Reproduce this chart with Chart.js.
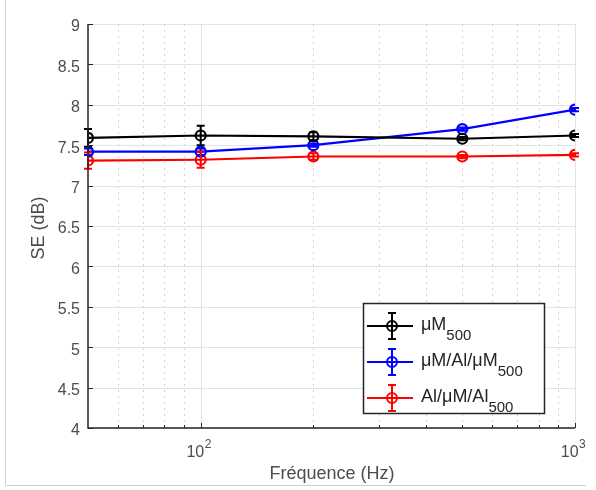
<!DOCTYPE html>
<html>
<head>
<meta charset="utf-8">
<script src="https://cdn.jsdelivr.net/npm/chart.js@4.4.1/dist/chart.umd.min.js"></script>
<style>
html,body{margin:0;padding:0;background:#fff;}
#wrap{position:relative;width:596px;height:490px;}
</style>
</head>
<body>
<div id="wrap"><canvas id="c" width="596" height="490"></canvas></div>
<script>
const frequencies = [50, 100, 200, 500, 1000];
const seMu500 = [7.59, 7.62, 7.61, 7.58, 7.62];
const errMu500 = [0.11, 0.12, 0.05, 0.02, 0.02];
const seMuAlMu500 = [7.42, 7.42, 7.50, 7.70, 7.94];
const errMuAlMu500 = [0.04, 0.04, 0.02, 0.02, 0.02];
const seAlMuAl500 = [7.31, 7.32, 7.36, 7.36, 7.38];
const errAlMuAl500 = [0.10, 0.10, 0.04, 0.02, 0.02];
const seriesNames = ['μM', 'μM/Al/μM', 'Al/μM/Al'];
const seriesSub = ['500', '500', '500'];
const seriesColors = ['#000000', '#0000ff', '#ff0000'];
const xMajorTicks = [100, 1000];
const xMajorLabels = ['10', '10'];
const xMajorExp = ['2', '3'];
const xMinorTicks = [60, 70, 80, 90, 200, 300, 400, 500, 600, 700, 800, 900];
const yTicks = [4, 4.5, 5, 5.5, 6, 6.5, 7, 7.5, 8, 8.5, 9];
const xTitle = 'Fréquence (Hz)';
const yTitle = 'SE (dB)';

const FONT = '"Liberation Sans", Arial, Helvetica, sans-serif';
const TXT = '#4d4d4d';

function mk(vals){ return frequencies.map((f,i)=>({x:f,y:vals[i]})); }
const allVals = [seMu500, seMuAlMu500, seAlMuAl500];
const allErrs = [errMu500, errMuAlMu500, errAlMuAl500];

const datasets = allVals.map((v,i)=>({
  label: seriesNames[i] + seriesSub[i],
  data: mk(v),
  errors: allErrs[i],
  borderColor: seriesColors[i],
  backgroundColor: 'rgba(0,0,0,0)',
  borderWidth: 2.2,
  pointRadius: 5,
  pointBorderWidth: 2.2,
  pointStyle: 'circle',
  showLine: true,
  tension: 0
}));

const gridPlugin = {
  id: 'grid',
  beforeDatasetsDraw(chart){
    const ctx = chart.ctx, a = chart.chartArea;
    const xs = chart.scales.x, ys = chart.scales.y;
    ctx.save();
    ctx.strokeStyle = '#e3e3e3'; ctx.lineWidth = 1;
    yTicks.forEach(t=>{
      const y = Math.round(ys.getPixelForValue(t))+0.5;
      ctx.beginPath(); ctx.moveTo(a.left,y); ctx.lineTo(a.right,y); ctx.stroke();
    });
    xMajorTicks.forEach(t=>{
      const x = Math.round(xs.getPixelForValue(t))+0.5;
      ctx.beginPath(); ctx.moveTo(x,a.top); ctx.lineTo(x,a.bottom); ctx.stroke();
    });
    ctx.strokeStyle = '#d4d4d4'; ctx.setLineDash([2,4]);
    xMinorTicks.forEach(t=>{
      const x = Math.round(xs.getPixelForValue(t))+0.5;
      ctx.beginPath(); ctx.moveTo(x,a.top); ctx.lineTo(x,a.bottom); ctx.stroke();
    });
    ctx.setLineDash([]);
    ctx.restore();
  },
  afterDatasetsDraw(chart){
    const ctx = chart.ctx;
    const xs = chart.scales.x, ys = chart.scales.y;
    ctx.save();
    chart.data.datasets.forEach(ds=>{
      ctx.strokeStyle = ds.borderColor; ctx.lineWidth = 2;
      ds.data.forEach((p,i)=>{
        const e = ds.errors[i];
        const x = xs.getPixelForValue(p.x);
        const y1 = ys.getPixelForValue(p.y - e), y2 = ys.getPixelForValue(p.y + e);
        ctx.beginPath();
        ctx.moveTo(x,y1); ctx.lineTo(x,y2);
        ctx.moveTo(x-4,y1); ctx.lineTo(x+4,y1);
        ctx.moveTo(x-4,y2); ctx.lineTo(x+4,y2);
        ctx.stroke();
      });
    });
    ctx.restore();
  },
  afterDraw(chart){
    const ctx = chart.ctx, a = chart.chartArea;
    const xs = chart.scales.x, ys = chart.scales.y;
    ctx.save();
    ctx.strokeStyle = '#d0d0d0'; ctx.lineWidth = 1;
    ctx.beginPath(); ctx.moveTo(5.5,0); ctx.lineTo(5.5,485.5); ctx.lineTo(586,485.5); ctx.stroke();
    ctx.strokeStyle = '#262626'; ctx.lineWidth = 1.5;
    ctx.beginPath(); ctx.moveTo(a.left, a.top); ctx.lineTo(a.left, a.bottom); ctx.lineTo(a.right, a.bottom); ctx.stroke();
    ctx.lineWidth = 1;
    yTicks.forEach(t=>{
      const y = Math.round(ys.getPixelForValue(t))+0.5;
      ctx.beginPath(); ctx.moveTo(a.left,y); ctx.lineTo(a.left+5,y); ctx.stroke();
    });
    xMajorTicks.forEach(t=>{
      const x = Math.round(xs.getPixelForValue(t))+0.5;
      ctx.beginPath(); ctx.moveTo(x,a.bottom); ctx.lineTo(x,a.bottom-5); ctx.stroke();
    });
    xMinorTicks.forEach(t=>{
      const x = Math.round(xs.getPixelForValue(t))+0.5;
      ctx.beginPath(); ctx.moveTo(x,a.bottom); ctx.lineTo(x,a.bottom-3); ctx.stroke();
    });
    ctx.fillStyle = TXT;
    ctx.font = '16px ' + FONT;
    ctx.textAlign = 'right'; ctx.textBaseline = 'middle';
    yTicks.forEach(t=>{
      ctx.fillText(String(t), a.left - 8, ys.getPixelForValue(t)+3);
    });
    xMajorTicks.forEach((t,i)=>{
      const x = xs.getPixelForValue(t);
      ctx.textAlign = 'left'; ctx.textBaseline = 'alphabetic';
      ctx.font = '16px ' + FONT;
      const w = ctx.measureText(xMajorLabels[i]).width;
      ctx.font = '12px ' + FONT;
      const we = ctx.measureText(xMajorExp[i]).width;
      const x0 = x - (w + we)/2 - 2;
      ctx.font = '16px ' + FONT;
      ctx.fillText(xMajorLabels[i], x0, a.bottom + 29);
      ctx.font = '12px ' + FONT;
      ctx.fillText(xMajorExp[i], x0 + w + 0.5, a.bottom + 20);
    });
    ctx.font = '18px ' + FONT;
    ctx.textAlign = 'center'; ctx.textBaseline = 'middle';
    ctx.fillText(xTitle, 332, 474);
    ctx.save();
    ctx.translate(39, 228); ctx.rotate(-Math.PI/2);
    ctx.fillText(yTitle, 0, 0);
    ctx.restore();
    // legend
    const lx = 363, ly = 303, lw = 181, lh = 110;
    ctx.fillStyle = '#fff'; ctx.fillRect(lx, ly, lw, lh);
    ctx.strokeStyle = '#262626'; ctx.lineWidth = 1.5;
    ctx.strokeRect(lx+0.5, ly+0.5, lw, lh);
    const rows = [326, 362, 398];
    chart.data.datasets.forEach((ds,i)=>{
      const y = rows[i];
      ctx.strokeStyle = ds.borderColor; ctx.lineWidth = 2;
      ctx.beginPath(); ctx.moveTo(367,y); ctx.lineTo(413,y); ctx.stroke();
      ctx.beginPath(); ctx.moveTo(392,y-13); ctx.lineTo(392,y+13);
      ctx.moveTo(388,y-13); ctx.lineTo(396,y-13);
      ctx.moveTo(388,y+13); ctx.lineTo(396,y+13); ctx.stroke();
      ctx.beginPath(); ctx.arc(392,y,5,0,Math.PI*2); ctx.stroke();
      ctx.fillStyle = '#262626';
      ctx.textAlign = 'left'; ctx.textBaseline = 'alphabetic';
      ctx.font = '18px ' + FONT;
      const name = seriesNames[i];
      ctx.fillText(name, 421, y + 4);
      const w = ctx.measureText(name).width;
      ctx.font = '15px ' + FONT;
      ctx.fillText(seriesSub[i], 421 + w, y + 14);
    });
    ctx.restore();
  }
};

new Chart(document.getElementById('c'), {
  type: 'scatter',
  data: { datasets },
  options: {
    responsive: false,
    animation: false,
    devicePixelRatio: 1,
    layout: { padding: { left: 0, right: 21, top: 24, bottom: 0 } },
    plugins: { legend: { display: false }, tooltip: { enabled: false } },
    scales: {
      x: {
        type: 'logarithmic', min: 50, max: 1000,
        grid: { display: false }, border: { display: false },
        ticks: { display: false },
        afterFit(s){ s.height = 62; }
      },
      y: {
        type: 'linear', min: 4, max: 9,
        grid: { display: false }, border: { display: false },
        ticks: { display: false, stepSize: 0.5 },
        afterFit(s){ s.width = 88; }
      }
    }
  },
  plugins: [gridPlugin]
});
</script>
</body>
</html>
